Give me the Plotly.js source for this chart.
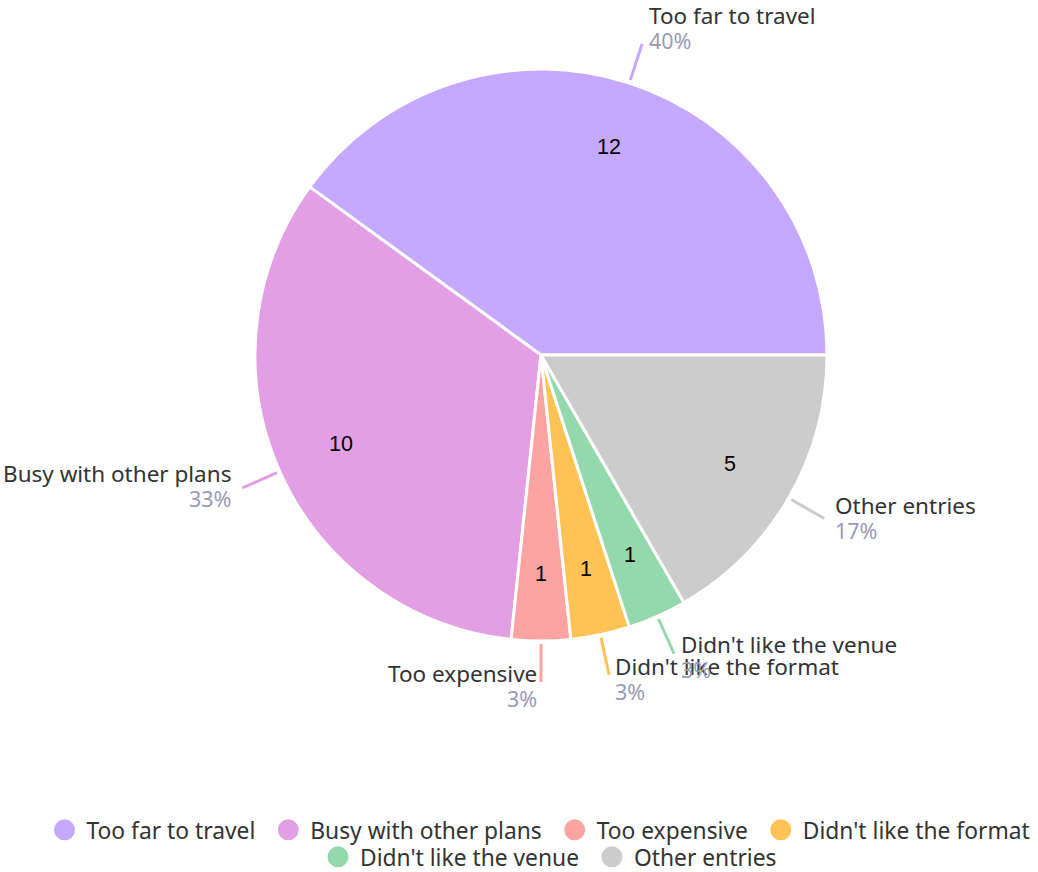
<!DOCTYPE html>
<html>
<head>
<meta charset="utf-8">
<script src="https://cdn.plot.ly/plotly-3.0.1.min.js"></script>
<style>html,body{margin:0;padding:0;background:#fff;}#chart{width:1038px;height:872px;}</style>
</head>
<body>
<div id="chart"></div>
<script>
const labels = ["Too far to travel", "Busy with other plans", "Too expensive", "Didn't like the format", "Didn't like the venue", "Other entries"];
const values = [12, 10, 1, 1, 1, 5];
const colors = ["#C5A8FF", "#E29FE3", "#FCA3A3", "#FFC254", "#94D9AD", "#CCCCCC"];

const W = 1038, H = 872;
const CX = 541, CY = 355, R = 286;
const FONT = "'Noto Sans', sans-serif";
const FS = 22.5;
const total = values.reduce((a, b) => a + b, 0);

const traces = [{
  type: 'pie',
  labels: labels,
  values: values,
  sort: false,
  direction: 'counterclockwise',
  // first slice starts at 3 o'clock and runs counterclockwise
  rotation: 90 - values[0] / total * 360,
  marker: {colors: colors, line: {color: '#ffffff', width: 3}},
  textinfo: 'none',
  hoverinfo: 'label+value+percent',
  showlegend: false,
  domain: {x: [(CX - R) / W, (CX + R) / W], y: [(H - CY - R) / H, (H - CY + R) / H]}
}];

labels.forEach((l, i) => {
  traces.push({
    type: 'scatter', mode: 'markers', x: [null], y: [null], name: l + '\u00A0',
    marker: {color: colors[i], size: 16, symbol: 'circle', line: {color: colors[i], width: 5}},
    showlegend: true, hoverinfo: 'skip',
    legend: i < 4 ? 'legend' : 'legend2'
  });
});

const px = x => x / W, py = y => 1 - y / H;
const shapes = [], annotations = [];
let cum = 0;
values.forEach((v, i) => {
  const mid = (cum + v / 2) / total * 2 * Math.PI;
  cum += v;
  const c = Math.cos(mid), s = Math.sin(mid);
  // value label inside the slice
  const ri = R * 0.765;
  annotations.push({xref: 'paper', yref: 'paper', showarrow: false,
    x: px(CX + ri * c), y: py(CY - ri * s), xanchor: 'center', yanchor: 'middle',
    text: String(v), font: {family: "'Liberation Sans', Arial, sans-serif", size: 21.5, color: '#000000'}});
  // leader line
  const r1 = R + 3, r2 = R + 41;
  const x1 = CX + r1 * c, y1 = CY - r1 * s, x2 = CX + r2 * c, y2 = CY - r2 * s;
  shapes.push({type: 'line', xref: 'paper', yref: 'paper',
    x0: px(x1), y0: py(y1), x1: px(x2), y1: py(y2),
    line: {color: colors[i], width: 3}});
  // outside label + percentage
  const right = c > 0.01;
  const gap = 2 + 8 * Math.abs(c);
  const tx = x2 + (right ? gap : -gap);
  const blockY = y2 - 6 - 10 * s;
  const pct = Math.round(v / total * 100) + '%';
  const common = {xref: 'paper', yref: 'paper', showarrow: false, x: px(tx),
    xanchor: right ? 'left' : 'right', yanchor: 'middle', align: right ? 'left' : 'right'};
  annotations.push(Object.assign({}, common, {y: py(blockY - 12.5), text: labels[i],
    font: {family: FONT, size: FS, color: '#333333'}}));
  annotations.push(Object.assign({}, common, {y: py(blockY + 12.5), text: pct,
    font: {family: FONT, size: 21.5, color: '#9A9AB6'}}));
});

const legendBase = {orientation: 'h', xanchor: 'center', yanchor: 'middle', itemwidth: 34,
  font: {family: FONT, size: 22.8, color: '#333333'}, itemsizing: 'trace', bgcolor: 'rgba(0,0,0,0)'};

const layout = {
  width: W, height: H,
  margin: {l: 0, r: 0, t: 0, b: 0, autoexpand: false},
  paper_bgcolor: '#ffffff', plot_bgcolor: '#ffffff',
  xaxis: {visible: false}, yaxis: {visible: false},
  showlegend: true,
  legend: Object.assign({}, legendBase, {x: px(542), y: py(830)}),
  legend2: Object.assign({}, legendBase, {x: px(552), y: py(857)}),
  shapes: shapes,
  annotations: annotations
};

Plotly.newPlot('chart', traces, layout, {displayModeBar: false, staticPlot: true});
</script>
</body>
</html>
